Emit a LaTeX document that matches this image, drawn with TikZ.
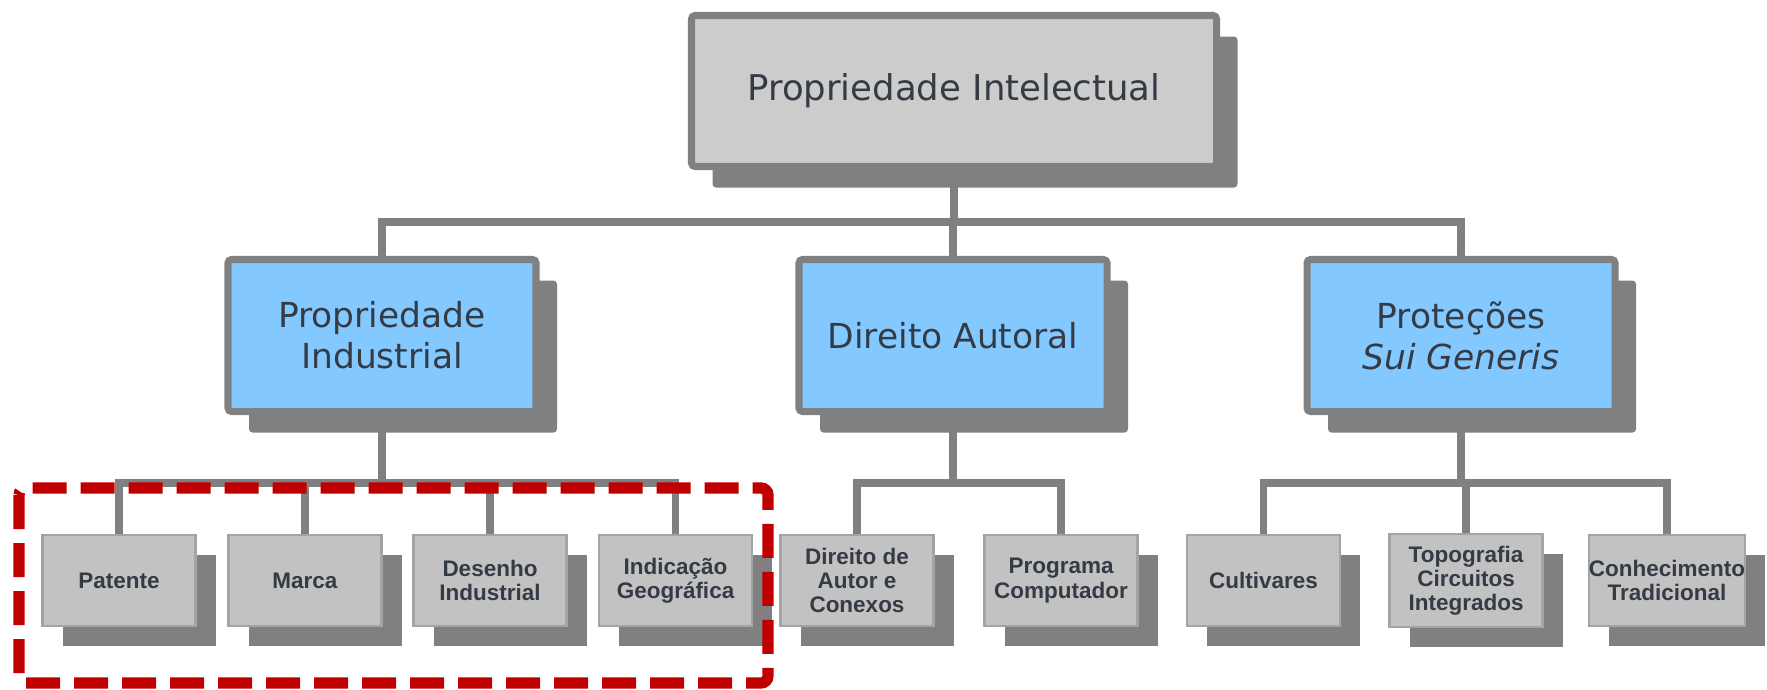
\documentclass[tikz,border=0pt]{standalone}
\usepackage{fontspec}
\setmainfont{DejaVu Sans}
\newfontfamily\leaffont{Liberation Sans}
\usepackage{xcolor}
\usepackage{tikz}
\usetikzlibrary{shadows}

\definecolor{boxgray}{HTML}{CCCCCC}
\definecolor{leafgray}{HTML}{C2C2C2}
\definecolor{leafedge}{HTML}{A4A4A4}
\definecolor{linegray}{HTML}{808080}
\definecolor{skyblue}{HTML}{83C9FF}
\definecolor{inkgray}{HTML}{343B45}
\definecolor{markred}{HTML}{C00000}

\begin{document}
\begin{tikzpicture}[
    rootbox/.style={draw=linegray, line width=2pt, fill=boxgray, rounded corners=1pt,
        minimum width=5.25cm, minimum height=1.51cm, text=inkgray,
        font=\fontsize{10.1}{12}\selectfont,
        drop shadow={shadow xshift=0.21cm, shadow yshift=-0.21cm, fill=linegray, opacity=1}},
    midbox/.style={draw=linegray, line width=2pt, fill=skyblue, rounded corners=1pt,
        minimum width=3.08cm, minimum height=1.52cm, align=center, text=inkgray,
        font=\fontsize{9.8}{11.6}\selectfont,
        drop shadow={shadow xshift=0.21cm, shadow yshift=-0.21cm, fill=linegray, opacity=1}},
    leafbox/.style={draw=leafedge, line width=0.6pt, fill=leafgray,
        minimum width=1.53cm, minimum height=0.91cm, inner xsep=0pt, align=center,
        text=inkgray, font=\leaffont\bfseries\fontsize{6.4}{6.9}\selectfont,
        drop shadow={shadow xshift=0.2cm, shadow yshift=-0.2cm, fill=linegray, opacity=1}},
    conn/.style={draw=linegray, line width=2.1pt},
    redbox/.style={draw=markred, line width=3.2pt, dash pattern=on 0.34cm off 0.14cm,
        rounded corners=2pt}
]
    \useasboundingbox (0,0) rectangle (17.67,-6.89);

    % top level
    \node[rootbox] (pi) at (9.54,-0.91) {Propriedade Intelectual};

    % second level
    \node[midbox] (pind) at (3.82,-3.355) {Propriedade\\Industrial};
    \node[midbox] (da) at (9.53,-3.355) {Direito Autoral};
    \node[midbox] (sg) at (14.61,-3.355) {Proteções\\\textit{Sui Generis}};

    % third level
    \node[leafbox] (pat) at (1.19,-5.805) {Patente};
    \node[leafbox] (mar) at (3.05,-5.805) {Marca};
    \node[leafbox] (des) at (4.90,-5.805) {Desenho\\Industrial};
    \node[leafbox] (geo) at (6.755,-5.805) {Indicação\\Geográfica};
    \node[leafbox] (dac) at (8.57,-5.805) {Direito de\\Autor e\\Conexos};
    \node[leafbox] (prog) at (10.61,-5.805) {Programa\\Computador};
    \node[leafbox] (cult) at (12.635,-5.805) {Cultivares};
    \node[leafbox] (topo) at (14.66,-5.805) {Topografia\\Circuitos\\Integrados};
    \node[leafbox] (conh) at (16.67,-5.805) {Conhecimento\\Tradicional};

    \coordinate (bus1) at (0,-2.22);
    \coordinate (bus2) at (0,-4.83);

    % connectors
    \draw[conn] (pi.south) -- (pi.south |- bus1);
    \draw[conn] (pind.north) -- (pind.north |- bus1) -- (sg.north |- bus1) -- (sg.north);
    \draw[conn] (da.north) -- (da.north |- bus1);

    \draw[conn] (pind.south) -- (pind.south |- bus2);
    \draw[conn] (pat.north) -- (pat.north |- bus2) -- (geo.north |- bus2) -- (geo.north);
    \foreach \leaf in {mar,des}
        \draw[conn] (\leaf.north) -- (\leaf.north |- bus2);

    \draw[conn] (da.south) -- (da.south |- bus2);
    \draw[conn] (dac.north) -- (dac.north |- bus2) -- (prog.north |- bus2) -- (prog.north);

    \draw[conn] (sg.south) -- (sg.south |- bus2);
    \draw[conn] (cult.north) -- (cult.north |- bus2) -- (conh.north |- bus2) -- (conh.north);
    \draw[conn] (topo.north) -- (topo.north |- bus2);

    % highlight
    \draw[redbox] (0.19,-4.88) rectangle (7.68,-6.83);
\end{tikzpicture}
\end{document}
